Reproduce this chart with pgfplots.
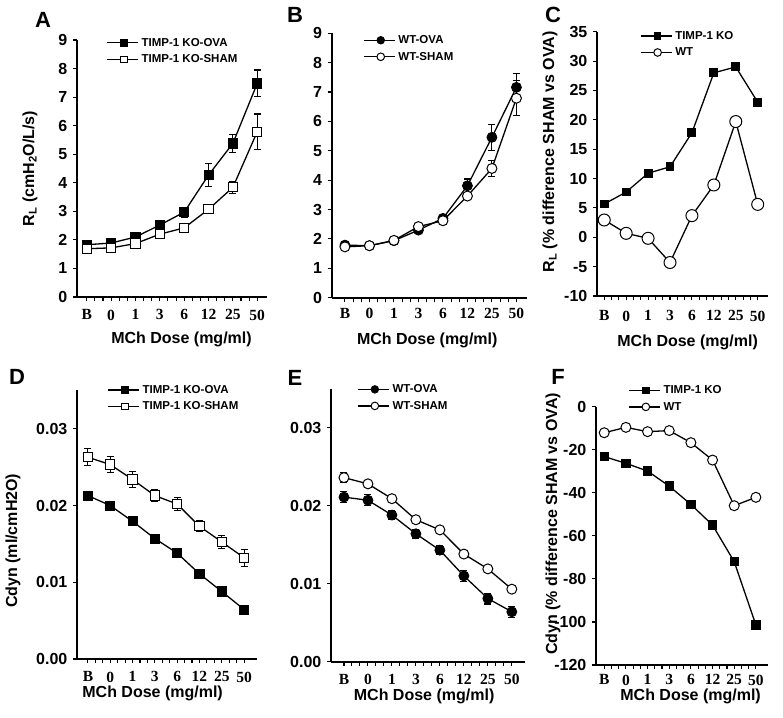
\documentclass[border=0pt]{standalone}
\usepackage{pgfplots}
\pgfplotsset{compat=1.18}
\usepackage{fontspec}
\setmainfont{Liberation Sans}
\newfontfamily\serifb{Liberation Serif}
\begin{document}
\begin{tikzpicture}
\useasboundingbox (0pt,0pt) rectangle (783pt,717pt);
\pgfplotsset{
  panel/.style={
    scale only axis, clip=false,
    axis lines*=left,
    axis line style={line width=1.8pt},
    tick align=outside,
    every tick/.style={black, line width=1.1pt},
    major tick length=4pt, minor tick length=4pt,
    xtick={0,...,7}, xticklabels={B,0,1,3,6,12,25,50},
    minor x tick num=2,
    /pgf/number format/assume math mode=true,
    xticklabel style={font=\serifb\bfseries\fontsize{15.5}{16}\selectfont, anchor=north, inner sep=0pt, yshift=-8.5pt},
    yticklabel style={font=\bfseries\fontsize{16}{17}\selectfont, anchor=east, inner sep=0pt, xshift=-5.5pt},
    label style={font=\bfseries\fontsize{16}{17}\selectfont},
    xlabel={MCh Dose (mg/ml)},
    legend style={draw=none, fill=none, inner sep=0pt, anchor=north west,
      font=\bfseries\fontsize{11.5}{12}\selectfont, row sep=3pt,
      /tikz/every odd column/.style={column sep=1pt}},
    legend cell align=left,
    legend image code/.code={\draw[mark repeat=2,mark phase=2] plot coordinates {(0pt,0pt) (17pt,0pt) (31pt,0pt)};},
  },
  ln/.style={black, line width=1.3pt},
  fsq/.style={ln, mark=square*, mark size=4.6pt, mark options={solid, fill=black, line width=0.8pt}, legend image post style={mark size=3.3pt}},
  osq/.style={ln, mark=square*, mark size=4.6pt, mark options={solid, fill=white, line width=1pt}, legend image post style={mark size=3.3pt}},
  fci/.style={ln, mark=*, mark size=5pt, mark options={solid, fill=black, line width=0.8pt}, legend image post style={mark size=3.8pt}},
  oci/.style={ln, mark=*, mark size=5pt, mark options={solid, fill=white, line width=1pt}, legend image post style={mark size=3.8pt}},
  eb/.style={error bars/.cd, y dir=both, y explicit,
    error bar style={line width=1.1pt, black},
    error mark options={rotate=90, mark size=3.5pt, line width=1.1pt, black}},
}
% ---------------- A ----------------
\begin{axis}[panel, at={(77pt,420pt)}, anchor=south west, width=190pt, height=257pt,
  xmin=-0.4, xmax=7.4, ymin=0, ymax=9, ytick={0,...,9},
  xlabel style={at={(axis description cs:0.55,0)}, anchor=center, yshift=-42pt},
  ylabel={R\textsubscript{L} (cmH\textsubscript{2}O/L/s)},
  ylabel style={at={([xshift=-47pt]axis description cs:0,0.5)}, anchor=center},
  legend style={at={(axis description cs:0.153,1.016)}}]
\addplot[fsq, eb] coordinates {(0,1.83)+-(0,0.04) (1,1.89)+-(0,0.05) (2,2.10)+-(0,0.07) (3,2.52)+-(0,0.10) (4,2.97)+-(0,0.17) (5,4.27)+-(0,0.40) (6,5.38)+-(0,0.32) (7,7.48)+-(0,0.47)};
\addlegendentry{TIMP-1 KO-OVA}
\addplot[osq, eb] coordinates {(0,1.69)+-(0,0.04) (1,1.72)+-(0,0.04) (2,1.87)+-(0,0.05) (3,2.20)+-(0,0.06) (4,2.42)+-(0,0.06) (5,3.07)+-(0,0.07) (6,3.84)+-(0,0.20) (7,5.79)+-(0,0.62)};
\addlegendentry{TIMP-1 KO-SHAM}
\end{axis}
% ---------------- B ----------------
\begin{axis}[panel, at={(331.7pt,419.3pt)}, anchor=south west, width=195pt, height=264.4pt,
  xmin=-0.54, xmax=7.42, ymin=0, ymax=9, ytick={0,...,9},
  xticklabel style={yshift=2pt},
  xlabel style={at={(axis description cs:0.49,0)}, anchor=center, yshift=-43pt},
  legend style={at={(axis description cs:0.16,1.0)}}]
\addplot[fci, eb] coordinates {(0,1.79)+-(0,0.05) (1,1.77)+-(0,0.04) (2,1.94)+-(0,0.05) (3,2.30)+-(0,0.07) (4,2.70)+-(0,0.08) (5,3.81)+-(0,0.23) (6,5.46)+-(0,0.45) (7,7.16)+-(0,0.48)};
\addlegendentry{WT-OVA}
\addplot[oci, eb] coordinates {(0,1.73)+-(0,0.05) (1,1.77)+-(0,0.04) (2,1.95)+-(0,0.05) (3,2.42)+-(0,0.07) (4,2.62)+-(0,0.07) (5,3.46)+-(0,0.10) (6,4.40)+-(0,0.26) (7,6.79)+-(0,0.60)};
\addlegendentry{WT-SHAM}
\end{axis}
% ---------------- C ----------------
\begin{axis}[panel, at={(597pt,421pt)}, anchor=south west, width=171pt, height=264.3pt,
  xmin=-0.33, xmax=7.47, ymin=-10, ymax=35, ytick={-10,-5,...,35},
  xticklabel style={yshift=-2pt},
  xlabel style={at={(axis description cs:0.53,0)}, anchor=center, yshift=-46pt},
  ylabel={R\textsubscript{L} (\% difference SHAM vs OVA)},
  ylabel style={at={([xshift=-47pt]axis description cs:0,0.545)}, anchor=center},
  legend style={at={(axis description cs:0.25,1.01)}}]
\addplot[ln, mark=square*, mark size=3.8pt, mark options={solid, fill=black}, legend image post style={mark size=3.2pt}] coordinates {(0,5.66) (1,7.7) (2,10.9) (3,12.0) (4,17.8) (5,28.0) (6,29.0) (7,23.0)};
\addlegendentry{TIMP-1 KO}
\addplot[ln, mark=*, mark size=6pt, mark options={solid, fill=white, line width=1pt}, legend image post style={mark size=3.8pt}] coordinates {(0,2.94) (1,0.67) (2,-0.18) (3,-4.3) (4,3.68) (5,8.9) (6,19.7) (7,5.6)};
\addlegendentry{WT}
\end{axis}
% ---------------- D ----------------
\begin{axis}[panel, at={(77pt,58pt)}, anchor=south west, width=180pt, height=268.5pt,
  xmin=-0.49, xmax=7.58, ymin=0, ymax=0.035, ytick={0,0.01,0.02,0.03},
  scaled y ticks=false,
  yticklabel style={/pgf/number format/.cd, fixed, fixed zerofill, precision=2},
  xlabel style={at={(axis description cs:0.42,0)}, anchor=center, yshift=-34.5pt},
  ylabel={Cdyn (ml/cmH2O)},
  ylabel style={at={([xshift=-64pt]axis description cs:0,0.44)}, anchor=center},
  legend style={at={(axis description cs:0.167,1.028)}}]
\addplot[fsq, eb] coordinates {(0,0.0213)+-(0,0.0003) (1,0.0200)+-(0,0.0003) (2,0.01795)+-(0,0.0003) (3,0.0157)+-(0,0.0003) (4,0.0138)+-(0,0.0003) (5,0.0111)+-(0,0.0003) (6,0.0088)+-(0,0.0003) (7,0.00645)+-(0,0.0003)};
\addlegendentry{TIMP-1 KO-OVA}
\addplot[osq, eb] coordinates {(0,0.0263)+-(0,0.0011) (1,0.02535)+-(0,0.001) (2,0.0234)+-(0,0.001) (3,0.0213)+-(0,0.0008) (4,0.0202)+-(0,0.0009) (5,0.0173)+-(0,0.0007) (6,0.01526)+-(0,0.0008) (7,0.0132)+-(0,0.0011)};
\addlegendentry{TIMP-1 KO-SHAM}
\end{axis}
% ---------------- E ----------------
\begin{axis}[panel, at={(331pt,55.3pt)}, anchor=south west, width=194pt, height=273pt,
  xmin=-0.54, xmax=7.55, ymin=0, ymax=0.035, ytick={0,0.01,0.02,0.03},
  scaled y ticks=false,
  yticklabel style={/pgf/number format/.cd, fixed, fixed zerofill, precision=2},
  xlabel style={at={(axis description cs:0.48,0)}, anchor=center, yshift=-34.5pt},
  legend style={at={(axis description cs:0.134,1.023)}}]
\addplot[fci, eb] coordinates {(0,0.0211)+-(0,0.0007) (1,0.0207)+-(0,0.0007) (2,0.0188)+-(0,0.0006) (3,0.0164)+-(0,0.0006) (4,0.0143)+-(0,0.0006) (5,0.0110)+-(0,0.0007) (6,0.0081)+-(0,0.0007) (7,0.0064)+-(0,0.0007)};
\addlegendentry{WT-OVA}
\addplot[oci, eb] coordinates {(0,0.0236)+-(0,0.0006) (1,0.0228)+-(0,0.0004) (2,0.0209)+-(0,0.0004) (3,0.0182)+-(0,0.0003) (4,0.0169)+-(0,0.0003) (5,0.0138)+-(0,0.0003) (6,0.0119)+-(0,0.0003) (7,0.0093)+-(0,0.0004)};
\addlegendentry{WT-SHAM}
\end{axis}
% ---------------- F ----------------
\begin{axis}[panel, at={(596pt,52pt)}, anchor=south west, width=172pt, height=258.3pt,
  xmin=-0.38, xmax=7.56, ymin=-120, ymax=0, ytick={-120,-100,...,0},
  xticklabel style={yshift=3pt},
  xlabel style={at={(axis description cs:0.55,0)}, anchor=center, yshift=-31.5pt},
  ylabel={Cdyn (\% difference SHAM vs OVA)},
  ylabel style={at={([xshift=-43pt]axis description cs:0,0.546)}, anchor=center},
  legend style={at={(axis description cs:0.186,1.09)}}]
\addplot[ln, mark=square*, mark size=4pt, mark options={solid, fill=black}, legend image post style={mark size=3.2pt}] coordinates {(0,-23.2) (1,-26.3) (2,-29.9) (3,-36.9) (4,-45.4) (5,-55) (6,-72) (7,-101.4)};
\addlegendentry{TIMP-1 KO}
\addplot[oci] coordinates {(0,-12.1) (1,-9.6) (2,-11.6) (3,-11.1) (4,-16.7) (5,-24.8) (6,-46) (7,-42.1)};
\addlegendentry{WT}
\end{axis}
% panel letters
\begin{scope}[every node/.style={font=\bfseries\fontsize{22}{22}\selectfont, anchor=center}]
\node at (43pt,697pt) {A};
\node at (295pt,702.5pt) {B};
\node at (553pt,702.5pt) {C};
\node at (17pt,340pt) {D};
\node at (295pt,339pt) {E};
\node at (558pt,340pt) {F};
\end{scope}
\end{tikzpicture}
\end{document}
